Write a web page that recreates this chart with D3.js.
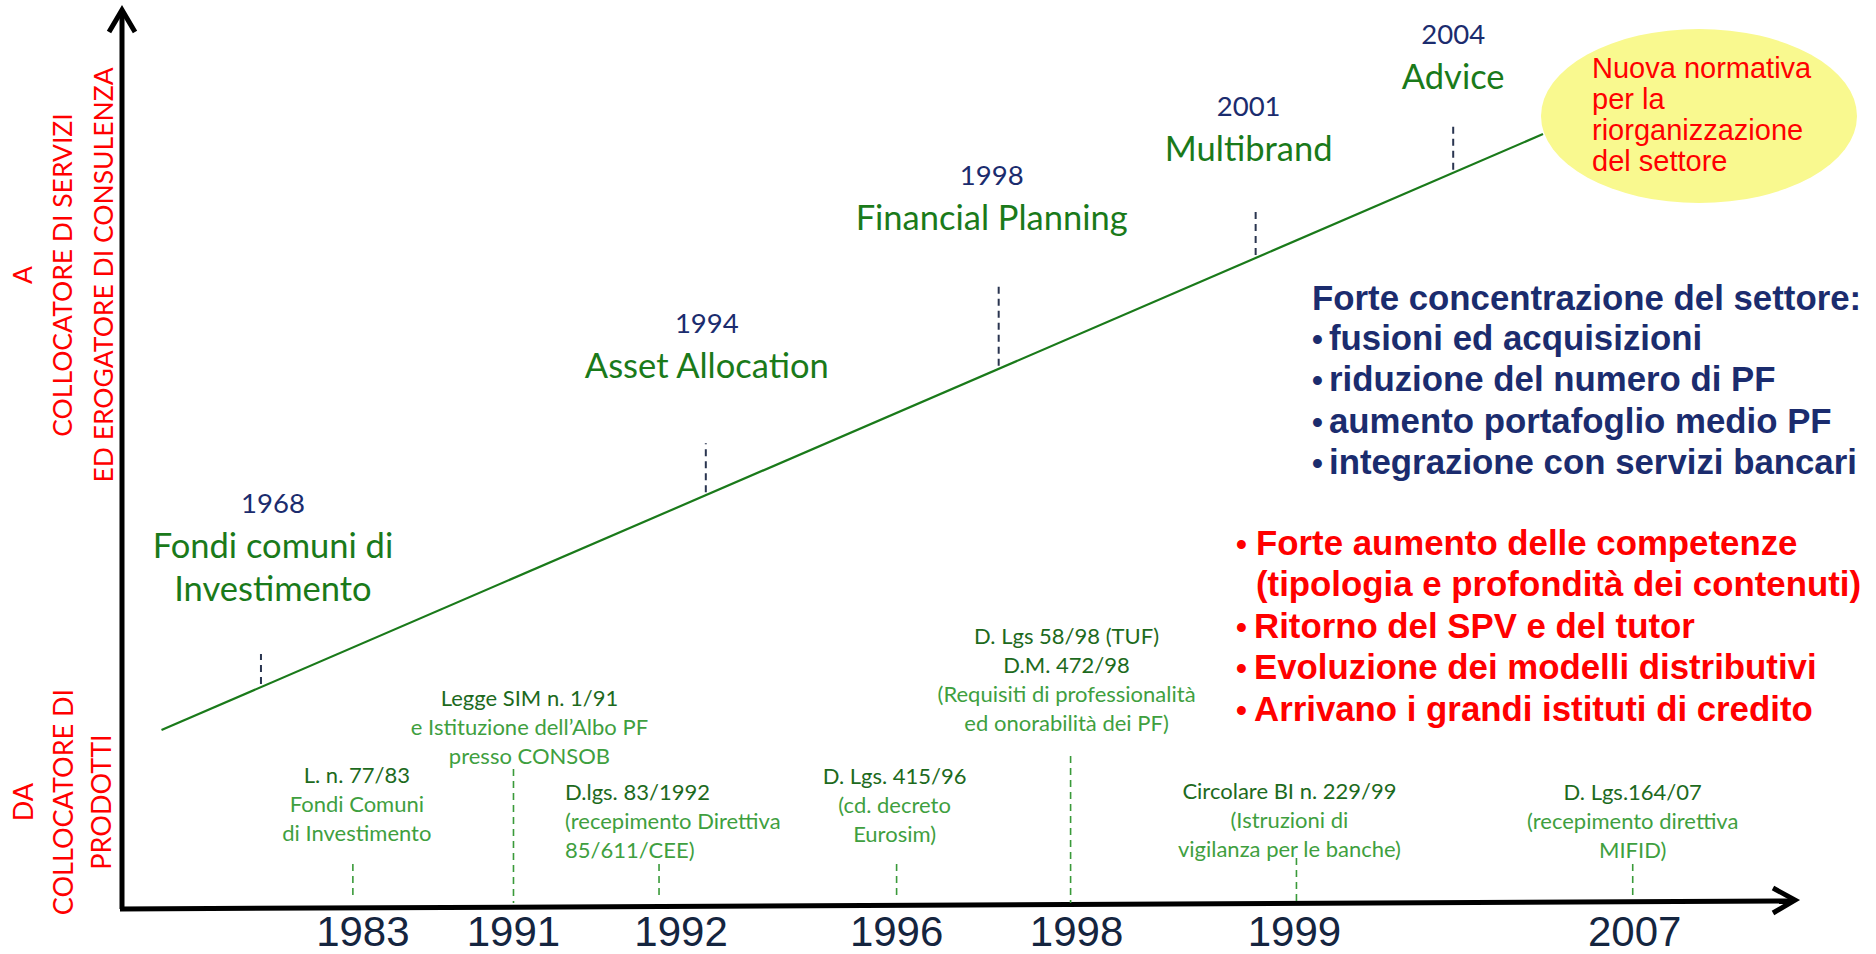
<!DOCTYPE html>
<html>
<head>
<meta charset="utf-8">
<script src="https://cdn.jsdelivr.net/npm/d3@7"></script>
<style>
  body { margin: 0; background: #fff; }
  svg { display: block; }
</style>
</head>
<body>
<svg id="chart" width="1876" height="954"></svg>
<script>
// milestones along the evolution line
const milestoneYears = ["1968", "1994", "1998", "2001", "2004"]
const milestoneLabels = [["Fondi comuni di", "Investimento"], ["Asset Allocation"], ["Financial Planning"], ["Multibrand"], ["Advice"]]

// regulations on the time axis
const eventYears = ["1983", "1991", "1992", "1996", "1998", "1999", "2007"]
const eventTitles = [["L. n. 77/83"], ["Legge SIM n. 1/91"], ["D.lgs. 83/1992"], ["D. Lgs. 415/96"], ["D. Lgs 58/98 (TUF)", "D.M. 472/98"], ["Circolare BI n. 229/99"], ["D. Lgs.164/07"]]
const eventNotes = [["Fondi Comuni", "di Investimento"], ["e Istituzione dell’Albo PF", "presso CONSOB"], ["(recepimento Direttiva", "85/611/CEE)"], ["(cd. decreto", "Eurosim)"], ["(Requisiti di professionalità", "ed onorabilità dei PF)"], ["(Istruzioni di", "vigilanza per le banche)"], ["(recepimento direttiva", "MIFID)"]]

const axisTop = ["A", "COLLOCATORE DI SERVIZI", "ED EROGATORE DI CONSULENZA"]
const axisBottom = ["DA", "COLLOCATORE DI", "PRODOTTI"]

const bubbleText = ["Nuova normativa", "per la", "riorganizzazione", "del settore"]
const concentrationTitle = "Forte concentrazione del settore:"
const concentrationPoints = ["fusioni ed acquisizioni", "riduzione del numero di PF", "aumento portafoglio medio PF", "integrazione con servizi bancari"]
const competencePoints = [["Forte aumento delle competenze", "(tipologia e profondità dei contenuti)"], ["Ritorno del SPV e del tutor"], ["Evoluzione dei modelli distributivi"], ["Arrivano i grandi istituti di credito"]]

// layout (where things sit, not data)
const milestoneT = [0.072, 0.394, 0.606, 0.792, 0.935]
const milestoneTick = [33, 52, 82, 46, 51]
const milestoneRise = [67, 79, 70, 64, 46]
const milestoneDx = [12, 1, -7, -7, 0]
const eventPos = [13.8, 23.4, 32.1, 46.3, 56.7, 70.2, 90.3]
const eventYearDx = [10, 0, 22, 0, 6, -2, 2]
const eventTickTop = [864, 769, 864, 864, 756, 858, 864]
const eventTextTop = [774, 697, 791, 775, 635, 790, 791]
const eventTextDx = [4, 16, -94, -2, -4, -7, 0]

const calibri = "Lato, 'Open Sans', sans-serif"
const arial = "'Liberation Sans', Arial, sans-serif"
const navy = "#1b2c6e"
const green = "#1a7a1a"
const dkgreen = "#1d6a1d"
const ltgreen = "#3f9f3f"

const svg = d3.select('#chart')

let x = d3.scaleLinear().domain([0, 100]).range([122, 1795])
let lineX = d3.scaleLinear().domain([0, 1]).range([161.5, 1543])
let lineY = d3.scaleLinear().domain([0, 1]).range([730, 134])

// ellipse
svg.append('ellipse')
  .attr('cx', 1699).attr('cy', 116).attr('rx', 158).attr('ry', 87)
  .style('fill', '#f9f98f')

svg.append('g').selectAll('text')
  .data(bubbleText)
  .join('text')
  .attr('x', 1592)
  .attr('y', (d, i) => 68 + i * 31)
  .attr('dominant-baseline', 'central')
  .style('font-family', arial).style('font-size', '29px').style('fill', '#ff0000')
  .text(d => d)

// evolution line
svg.append('line')
  .attr('x1', lineX(0)).attr('y1', lineY(0))
  .attr('x2', lineX(1)).attr('y2', lineY(1))
  .style('stroke', green).style('stroke-width', 2.2)

// axes
svg.append('line')
  .attr('x1', 122).attr('y1', 909).attr('x2', 122).attr('y2', 12)
  .style('stroke', '#000').style('stroke-width', 5)
svg.append('path')
  .attr('d', 'M109,32 L122,10 L135,32')
  .style('fill', 'none').style('stroke', '#000').style('stroke-width', 5)
svg.append('line')
  .attr('x1', x(0) - 2).attr('y1', 909).attr('x2', x(100) - 2).attr('y2', 901)
  .style('stroke', '#000').style('stroke-width', 5)
svg.append('path')
  .attr('d', 'M1773,888 L1795,900 L1773,913')
  .style('fill', 'none').style('stroke', '#000').style('stroke-width', 5)

// milestones
let ms = svg.append('g').selectAll('g')
  .data(milestoneYears)
  .join('g')

ms.append('line')
  .attr('x1', (d, i) => lineX(milestoneT[i]))
  .attr('x2', (d, i) => lineX(milestoneT[i]))
  .attr('y1', (d, i) => lineY(milestoneT[i]) - 3)
  .attr('y2', (d, i) => lineY(milestoneT[i]) - milestoneTick[i])
  .style('stroke', '#2a3550').style('stroke-width', 2).style('stroke-dasharray', '7,5')

ms.each(function (d, i) {
  let g = d3.select(this)
  let cx = lineX(milestoneT[i]) + milestoneDx[i]
  let lastY = lineY(milestoneT[i]) - milestoneTick[i] - milestoneRise[i]
  let labels = milestoneLabels[i]
  labels.forEach((l, j) => {
    g.append('text')
      .attr('x', cx)
      .attr('y', lastY - (labels.length - 1 - j) * 43)
      .attr('text-anchor', 'middle').attr('dominant-baseline', 'central')
      .style('font-family', calibri).style('font-size', '34.5px').style('fill', green)
      .text(l)
  })
  g.append('text')
    .attr('x', cx)
    .attr('y', lastY - (labels.length - 1) * 43 - 42)
    .attr('text-anchor', 'middle').attr('dominant-baseline', 'central')
    .style('font-family', calibri).style('font-size', '27.5px').style('fill', navy)
    .text(d)
})

// events on the time axis
let ev = svg.append('g').selectAll('g')
  .data(eventYears)
  .join('g')

ev.append('line')
  .attr('x1', (d, i) => x(eventPos[i])).attr('x2', (d, i) => x(eventPos[i]))
  .attr('y1', (d, i) => eventTickTop[i])
  .attr('y2', (d, i) => eventTickTop[i] === 864 ? 895 : 903)
  .style('stroke', '#3a9a3a').style('stroke-width', 1.6).style('stroke-dasharray', '7,5')

ev.append('text')
  .attr('x', (d, i) => x(eventPos[i]) + eventYearDx[i])
  .attr('y', 931)
  .attr('text-anchor', 'middle').attr('dominant-baseline', 'central')
  .style('font-family', arial).style('font-size', '42px').style('fill', '#15253f')
  .text(d => d)

ev.each(function (d, i) {
  let g = d3.select(this)
  let anchor = eventTextDx[i] < -50 ? 'start' : 'middle'
  let tx = x(eventPos[i]) + eventTextDx[i]
  let lines = eventTitles[i].map(t => ({ t, c: dkgreen })).concat(eventNotes[i].map(t => ({ t, c: ltgreen })))
  g.selectAll('text.note')
    .data(lines)
    .join('text')
    .attr('class', 'note')
    .attr('x', tx)
    .attr('y', (l, j) => eventTextTop[i] + j * 29)
    .attr('text-anchor', anchor).attr('dominant-baseline', 'central')
    .style('font-family', calibri).style('font-size', '22px').style('fill', l => l.c)
    .text(l => l.t)
})

// vertical axis captions
svg.append('g').selectAll('text')
  .data(axisTop)
  .join('text')
  .attr('transform', (d, i) => `translate(${[22, 62, 103][i]},275) rotate(-90)`)
  .attr('text-anchor', 'middle').attr('dominant-baseline', 'central')
  .style('font-family', calibri).style('font-size', '26.5px').style('fill', '#ff0000')
  .text(d => d)

svg.append('g').selectAll('text')
  .data(axisBottom)
  .join('text')
  .attr('transform', (d, i) => `translate(${[22, 62, 100][i]},802) rotate(-90)`)
  .attr('text-anchor', 'middle').attr('dominant-baseline', 'central')
  .style('font-family', calibri).style('font-size', '27px').style('fill', '#ff0000')
  .text(d => d)

// concentration block
svg.append('text')
  .attr('x', 1312).attr('y', 297)
  .attr('dominant-baseline', 'central')
  .style('font-family', arial).style('font-weight', 'bold').style('font-size', '34.8px').style('fill', navy)
  .text(concentrationTitle)

let cp = svg.append('g').selectAll('g')
  .data(concentrationPoints)
  .join('g')
cp.append('text')
  .attr('x', 1312).attr('y', (d, i) => 339 + i * 41.5)
  .attr('dominant-baseline', 'central')
  .style('font-family', arial).style('font-weight', 'bold').style('font-size', '31px').style('fill', navy)
  .text('•')
cp.append('text')
  .attr('x', 1329).attr('y', (d, i) => 337 + i * 41.5)
  .attr('dominant-baseline', 'central')
  .style('font-family', arial).style('font-weight', 'bold').style('font-size', '34.8px').style('fill', navy)
  .text(d => d)

// competence block
let row = 0
competencePoints.forEach((p, i) => {
  p.forEach((t, j) => {
    let yy = 542 + row * 41.5
    if (j === 0) {
      svg.append('text')
        .attr('x', 1236).attr('y', yy + 2)
        .attr('dominant-baseline', 'central')
        .style('font-family', arial).style('font-weight', 'bold').style('font-size', '31px').style('fill', '#ff0000')
        .text('•')
    }
    svg.append('text')
      .attr('x', i === 0 ? 1256 : 1254).attr('y', yy)
      .attr('dominant-baseline', 'central')
      .style('font-family', arial).style('font-weight', 'bold').style('font-size', '34.8px').style('fill', '#ff0000')
      .text(t)
    row++
  })
})
</script>
</body>
</html>
